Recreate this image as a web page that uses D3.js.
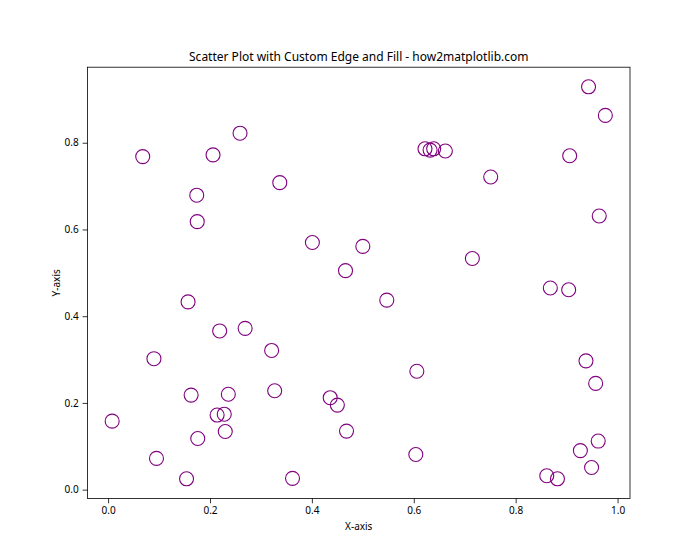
<!DOCTYPE html>
<html>
<head>
<meta charset="utf-8">
<script src="https://cdn.jsdelivr.net/npm/d3@7"></script>
<style>
  body { margin: 0; background: #fff; }
  svg text { font-family: "Noto Sans", sans-serif; fill: #000; }
</style>
</head>
<body>
<div id="chart"></div>
<script>
// point values
const xs = [0.008, 0.068, 0.259, 0.206, 0.174, 0.175, 0.337, 0.401, 0.500, 0.466,
  0.622, 0.632, 0.639, 0.662, 0.943, 0.976, 0.906, 0.751, 0.964, 0.715,
  0.157, 0.219, 0.269, 0.321, 0.090, 0.163, 0.236, 0.214, 0.228, 0.230,
  0.176, 0.095, 0.154, 0.547, 0.606, 0.327, 0.436, 0.450, 0.468, 0.604,
  0.362, 0.868, 0.904, 0.938, 0.957, 0.962, 0.927, 0.949, 0.861, 0.882]
const ys = [0.158, 0.768, 0.822, 0.772, 0.679, 0.618, 0.708, 0.570, 0.561, 0.505,
  0.786, 0.783, 0.786, 0.781, 0.929, 0.863, 0.770, 0.721, 0.631, 0.533,
  0.433, 0.366, 0.372, 0.321, 0.302, 0.218, 0.220, 0.172, 0.174, 0.134,
  0.118, 0.072, 0.025, 0.437, 0.273, 0.228, 0.212, 0.195, 0.135, 0.081,
  0.026, 0.465, 0.461, 0.297, 0.245, 0.112, 0.090, 0.051, 0.032, 0.025]
const xTicks = [0, 0.2, 0.4, 0.6, 0.8, 1.0]
const yTicks = [0, 0.2, 0.4, 0.6, 0.8]

const width = 700, height = 560
const margin = {top: 67.2, right: 70, bottom: 61.6, left: 87.5}

const data = xs.map((x, i) => ({x: x, y: ys[i]}))

// matplotlib-like 5% padding around the data
function padded(ext) {
  const r = ext[1] - ext[0]
  return [ext[0] - 0.05 * r, ext[1] + 0.05 * r]
}

const x = d3.scaleLinear()
  .domain(padded(d3.extent(xs)))
  .range([margin.left, width - margin.right])

const y = d3.scaleLinear()
  .domain(padded(d3.extent(ys)))
  .range([height - margin.bottom, margin.top])

const svg = d3.select('#chart').append('svg')
  .attr('width', width)
  .attr('height', height)

// points
svg.append('g')
  .selectAll('circle')
  .data(data)
  .enter()
  .append('circle')
  .attr('cx', d => x(d.x))
  .attr('cy', d => y(d.y))
  .attr('r', 7)
  .style('fill', 'none')
  .style('stroke', 'purple')
  .style('stroke-width', 1.1)

// axes
svg.append('g')
  .attr('transform', `translate(0,${height - margin.bottom})`)
  .call(d3.axisBottom(x).tickValues(xTicks).tickFormat(d3.format('.1f')).tickSizeOuter(0).tickSize(4.9).tickPadding(4))

svg.append('g')
  .attr('transform', `translate(${margin.left},0)`)
  .call(d3.axisLeft(y).tickValues(yTicks).tickFormat(d3.format('.1f')).tickSizeOuter(0).tickSize(4.9).tickPadding(4))

svg.selectAll('.tick text').style('font-size', '10px')
svg.selectAll('.domain').remove()
svg.selectAll('.tick line').style('stroke', '#000').style('stroke-width', 0.8)

// frame
svg.append('rect')
  .attr('x', margin.left)
  .attr('y', margin.top)
  .attr('width', width - margin.left - margin.right)
  .attr('height', height - margin.top - margin.bottom)
  .style('fill', 'none')
  .style('stroke', '#000')
  .style('stroke-width', 0.8)

// labels
svg.append('text')
  .attr('x', (margin.left + width - margin.right) / 2)
  .attr('y', 61)
  .attr('text-anchor', 'middle')
  .style('font-size', '12px')
  .text('Scatter Plot with Custom Edge and Fill - how2matplotlib.com')

svg.append('text')
  .attr('x', (margin.left + width - margin.right) / 2)
  .attr('y', 530)
  .attr('text-anchor', 'middle')
  .style('font-size', '10px')
  .text('X-axis')

svg.append('text')
  .attr('transform', `translate(60,${(margin.top + height - margin.bottom) / 2}) rotate(-90)`)
  .attr('text-anchor', 'middle')
  .style('font-size', '10px')
  .text('Y-axis')
</script>
</body>
</html>
